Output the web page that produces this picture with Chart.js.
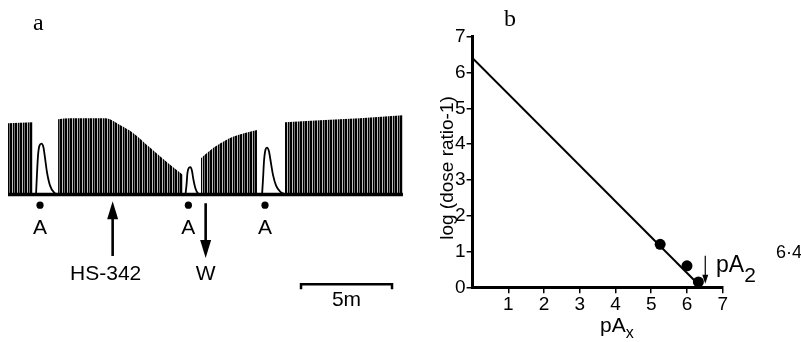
<!DOCTYPE html>
<html><head><meta charset="utf-8">
<script src="https://cdn.jsdelivr.net/npm/chart.js@4/dist/chart.umd.min.js"></script>
<style>
html,body{margin:0;padding:0;background:#fff;}
#wrap{position:relative;width:801px;height:342px;overflow:hidden;background:#fff;}
#ca{position:absolute;left:0;top:0;}
#cb{position:absolute;left:440px;top:0;}
</style></head><body>
<div id="wrap"><canvas id="ca" width="440" height="342"></canvas><canvas id="cb" width="361" height="342"></canvas></div>
<script>
// ---------- Panel a: twitch trains (envelope of twitch peaks), time in min, tension in arbitrary units ----------
const train1Time = [0, 1.37];
const train1Peak = [7.3, 7.4];
const train2Time = [2.75, 3.41, 4.23, 5.33, 5.60, 6.15, 6.87, 7.80, 8.74, 9.62];
const train2Peak = [7.7, 7.8, 7.8, 7.8, 7.7, 7.1, 6.3, 4.8, 3.3, 2.0];
const train3Time = [10.60, 11.10, 11.48, 11.92, 12.36, 13.02, 13.68];
const train3Peak = [3.7, 4.5, 5.0, 5.5, 5.9, 6.3, 6.6];
const train4Time = [15.22, 17.14, 19.34, 21.70];
const train4Peak = [7.4, 7.6, 7.8, 8.1];
// Agonist (A) contractures
const resp1Time = [1.54, 1.59, 1.65, 1.73, 1.84, 1.95, 2.03, 2.14, 2.31, 2.53, 2.75];
const resp1Tension = [0, 2.0, 4.0, 5.0, 5.2, 4.8, 3.8, 2.3, 0.9, 0.2, 0];
const resp2Time = [9.75, 9.81, 9.86, 9.95, 10.03, 10.11, 10.19, 10.30, 10.44, 10.60];
const resp2Tension = [0, 1.0, 2.2, 2.75, 2.8, 2.4, 1.5, 0.6, 0.1, 0];
const resp3Time = [13.96, 14.01, 14.07, 14.15, 14.23, 14.34, 14.45, 14.56, 14.73, 14.95, 15.22];
const resp3Tension = [0, 1.5, 3.5, 4.6, 4.8, 4.4, 3.2, 2.0, 0.9, 0.3, 0];
const traceSpan = [0, 21.70];
// Events
const agonistTimes = [1.76, 9.91, 14.12];
const agonistLabel = 'A';
const drugTime = 5.75, drugLabel = 'HS-342';
const washTime = 10.86, washLabel = 'W';
const scaleBarStart = 16.1, scaleBarLength = 5, scaleBarLabel = '5m';

// ---------- Panel b: Schild plot ----------
const pAxValues = [5.25, 6.0, 6.32];
const logDoseRatio = [1.2, 0.6, 0.15];
const fitX = [0, 6.4];
const fitY = [6.4, 0];
const pA2Value = 6.4;
const pA2Text = '6·4';
const yTitle = 'log (dose ratio-1)';

const SANS = '"Liberation Sans", Arial, sans-serif';
const SERIF = '"Liberation Serif", "Times New Roman", serif';

function pts(xs, ys){ return xs.map((x,i)=>({x:x, y:ys[i]})); }
function stripes(){
  const shades=[1,1,0.25,1,0.55];
  const c=document.createElement('canvas'); c.width=shades.length; c.height=4;
  const g=c.getContext('2d');
  shades.forEach((a,i)=>{ g.fillStyle='rgba(0,0,0,'+a+')'; g.fillRect(i,0,1,4); });
  return g.createPattern(c,'repeat');
}
const pat = stripes();

function trainDS(t,h){
  return {data:pts(t,h), showLine:true, borderWidth:0, borderColor:'rgba(0,0,0,0)', pointRadius:0,
          backgroundColor:pat, fill:{value:0}, cubicInterpolationMode:'monotone', order:3};
}
function respDS(t,h){
  return {data:pts(t,h), showLine:true, borderWidth:1.8, borderColor:'#000', pointRadius:0,
          fill:false, cubicInterpolationMode:'monotone', order:1};
}

function arrow(ctx,x,y1,y2,w,headL,headW){
  const dir = y2>y1?1:-1;
  ctx.beginPath(); ctx.lineWidth=w; ctx.strokeStyle='#000';
  ctx.moveTo(x,y1); ctx.lineTo(x,y2-dir*headL*0.8); ctx.stroke();
  ctx.beginPath(); ctx.fillStyle='#000';
  ctx.moveTo(x,y2); ctx.lineTo(x-headW/2,y2-dir*headL); ctx.lineTo(x+headW/2,y2-dir*headL); ctx.closePath(); ctx.fill();
}

const annotA = {
  id:'annotA',
  afterDraw(chart){
    const ctx=chart.ctx, xs=chart.scales.x, ys=chart.scales.y;
    ctx.save();
    ctx.fillStyle='#000';
    ctx.font='24px '+SERIF; ctx.textAlign='left'; ctx.textBaseline='alphabetic';
    ctx.fillText('a',33,30);
    ctx.font='21px '+SANS; ctx.textAlign='center'; ctx.textBaseline='middle';
    agonistTimes.forEach(t=>ctx.fillText(agonistLabel, xs.getPixelForValue(t), ys.getPixelForValue(-3.5)));
    const xd=xs.getPixelForValue(drugTime);
    arrow(ctx,xd,ys.getPixelForValue(-6.3),ys.getPixelForValue(-0.7),2.6,18,11);
    ctx.fillText(drugLabel, xd-7, ys.getPixelForValue(-8.2));
    const xw=xs.getPixelForValue(washTime);
    arrow(ctx,xw,ys.getPixelForValue(-0.9),ys.getPixelForValue(-6.5),2.6,18,11);
    ctx.fillText(washLabel, xw, ys.getPixelForValue(-8.2));
    const x1=xs.getPixelForValue(scaleBarStart), x2=xs.getPixelForValue(scaleBarStart+scaleBarLength), yb=ys.getPixelForValue(-9.2);
    ctx.beginPath(); ctx.lineWidth=2.5; ctx.strokeStyle='#000';
    ctx.moveTo(x1,yb+5); ctx.lineTo(x1,yb); ctx.lineTo(x2,yb); ctx.lineTo(x2,yb+5); ctx.stroke();
    ctx.fillText(scaleBarLabel,(x1+x2)/2, ys.getPixelForValue(-10.8));
    ctx.restore();
  }
};

new Chart(document.getElementById('ca'),{
  type:'scatter',
  data:{datasets:[
    trainDS(train1Time,train1Peak), trainDS(train2Time,train2Peak),
    trainDS(train3Time,train3Peak), trainDS(train4Time,train4Peak),
    respDS(resp1Time,resp1Tension), respDS(resp2Time,resp2Tension), respDS(resp3Time,resp3Tension),
    {data:pts(traceSpan,[0,0]), showLine:true, borderWidth:3.5, borderColor:'#000', pointRadius:0, order:0},
    {data:agonistTimes.map(t=>({x:t,y:-1.1})), pointRadius:3.6, pointBackgroundColor:'#000', pointBorderWidth:0, showLine:false, order:0}
  ]},
  options:{
    responsive:false, animation:false, events:[],
    layout:{padding:{left:8,right:31.6,top:0,bottom:0}},
    plugins:{legend:{display:false},tooltip:{enabled:false}},
    scales:{
      x:{type:'linear',min:0,max:22,display:false},
      y:{type:'linear',min:-14.7,max:19.5,display:false}
    }
  },
  plugins:[annotA]
});

const annotB = {
  id:'annotB',
  afterDraw(chart){
    const ctx=chart.ctx, xs=chart.scales.x, ys=chart.scales.y;
    ctx.save(); ctx.fillStyle='#000';
    ctx.font='24px '+SERIF; ctx.textAlign='left'; ctx.textBaseline='alphabetic';
    ctx.fillText('b',64,26);
    // y title (rotated)
    ctx.save();
    ctx.translate(8,168); ctx.rotate(-Math.PI/2);
    ctx.font='19px '+SANS; ctx.textAlign='center'; ctx.textBaseline='middle';
    ctx.fillText(yTitle,0,0);
    ctx.restore();
    // x title pAx
    ctx.font='21px '+SANS; ctx.textAlign='left'; ctx.textBaseline='alphabetic';
    const cx=xs.getPixelForValue(4.1);
    ctx.fillText('pA',cx-19,332);
    const wpa=ctx.measureText('pA').width;
    ctx.font='16px '+SANS; ctx.fillText('x',cx-19+wpa,338);
    // pA2 arrow
    const xa=xs.getPixelForValue(pA2Value)+4;
    ctx.beginPath(); ctx.lineWidth=1.2; ctx.strokeStyle='#000';
    ctx.moveTo(xa,ys.getPixelForValue(0.88)); ctx.lineTo(xa,ys.getPixelForValue(0.2)); ctx.stroke();
    ctx.beginPath(); const yt=ys.getPixelForValue(0.1);
    ctx.moveTo(xa,yt); ctx.lineTo(xa-3,yt-9); ctx.lineTo(xa+3,yt-9); ctx.closePath(); ctx.fill();
    ctx.font='23px '+SANS; ctx.fillText('pA',276,272);
    const w2=ctx.measureText('pA').width;
    ctx.font='21px '+SANS; ctx.fillText('2',276+w2,282);
    ctx.font='18px '+SANS; ctx.fillText(pA2Text,336,258);
    ctx.restore();
  }
};

const tickGrid = {display:true, drawOnChartArea:false, drawTicks:true, tickLength:6, lineWidth:1.5,
  color:(c)=> (c.tick && c.tick.value===0 && c.scale.axis==='x') ? 'rgba(0,0,0,0)' : '#000'};

new Chart(document.getElementById('cb'),{
  type:'scatter',
  data:{datasets:[
    {data:pts(fitX,fitY), showLine:true, borderWidth:2, borderColor:'#000', pointRadius:0, order:1},
    {data:pts(pAxValues,logDoseRatio), pointRadius:5.5, pointBackgroundColor:'#000', pointBorderWidth:0, showLine:false, order:0}
  ]},
  options:{
    responsive:false, animation:false, events:[],
    layout:{padding:{left:0,right:78.3,top:36.7,bottom:0}},
    plugins:{legend:{display:false},tooltip:{enabled:false}},
    scales:{
      x:{type:'linear',min:0,max:7,
        ticks:{stepSize:1,color:'#000',font:{family:SANS,size:19},padding:0,maxRotation:0,
          callback:(v)=> v===0?'':String(v)},
        grid:tickGrid, border:{display:true,width:3,color:'#000'},
        afterFit:(s)=>{s.height=54.7;}},
      y:{type:'linear',min:0,max:7,
        ticks:{stepSize:1,color:'#000',font:{family:SANS,size:19},padding:1},
        grid:tickGrid, border:{display:true,width:3,color:'#000'},
        title:{display:false,text:yTitle},
        afterFit:(s)=>{s.width=32.6;}}
    }
  },
  plugins:[annotB]
});
</script>
</body></html>
